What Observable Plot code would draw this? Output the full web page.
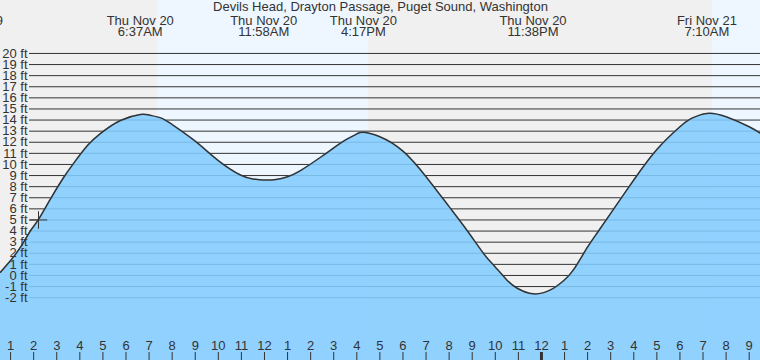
<!DOCTYPE html>
<html><head><meta charset="utf-8">
<script src="https://cdn.jsdelivr.net/npm/d3@7"></script>
<script src="https://cdn.jsdelivr.net/npm/@observablehq/plot@0.6"></script>
<style>
html,body{margin:0;padding:0;background:#f0f0f0;overflow:hidden;}
#chart svg{display:block;}
</style>
</head><body><div id="chart"></div>
<script>
// ---- data (hours since Thu Nov 20 00:00) ----
const title = "Devils Head, Drayton Passage, Puget Sound, Washington";
const tideHours = [0.563, 1.0, 1.43, 1.87, 2.21, 2.73, 3.29, 3.73, 4.33, 4.9, 5.76, 6.62, 7.0, 7.5, 8.0, 9.0, 10.0, 10.96, 11.5, 11.97, 12.5, 13.0, 13.56, 14.43, 15.0, 15.5, 16.0, 16.28, 17.0, 18.0, 19.0, 20.0, 20.78, 21.5, 21.94, 22.52, 22.95, 23.63, 24.39, 24.97, 25.4, 25.98, 26.42, 27.0, 28.0, 29.0, 30.0, 30.5, 31.17, 32.0, 33.0, 33.49];
const tideFeet  = [0.3, 1.35, 2.55, 4.05, 5.05, 6.9, 8.8, 10.1, 11.7, 12.8, 13.96, 14.5, 14.45, 14.2, 13.6, 12.1, 10.35, 9.05, 8.7, 8.6, 8.65, 8.9, 9.45, 10.65, 11.5, 12.2, 12.75, 12.9, 12.5, 11.2, 8.9, 6.2, 4.05, 1.95, 0.9, -0.45, -1.15, -1.65, -1.3, -0.45, 0.55, 2.5, 3.85, 5.6, 8.6, 11.35, 13.4, 14.15, 14.6, 14.3, 13.4, 12.8];
const extremeHours = [-0.875, 6.617, 11.967, 16.283, 23.633, 31.167];
const extremeDates = ["Wed Nov 19", "Thu Nov 20", "Thu Nov 20", "Thu Nov 20", "Thu Nov 20", "Fri Nov 21"];
const extremeTimes = ["11:08PM", "6:37AM", "11:58AM", "4:17PM", "11:38PM", "7:10AM"];
const dayStarts = [7.37, 31.41];
const dayEnds = [16.51, 33.49];
const levelTicks = [-2, -1, 0, 1, 2, 3, 4, 5, 6, 7, 8, 9, 10, 11, 12, 13, 14, 15, 16, 17, 18, 19, 20];
const hourTicks = [1,2,3,4,5,6,7,8,9,10,11,12,13,14,15,16,17,18,19,20,21,22,23,24,25,26,27,28,29,30,31,32,33];
const hourLabels = ["1","2","3","4","5","6","7","8","9","10","11","12","1","2","3","4","5","6","7","8","9","10","11","12","1","2","3","4","5","6","7","8","9"];
const midnightTicks = [24];
const nowHour = [2.21];
const nowFeet = [5];
const xDomain = [0.563, 33.49];
const yDomain = [-7.66, 24.77];

const tide = tideHours.map((h, i) => ({h, ft: tideFeet[i]}));
const extremes = extremeHours.map((h, i) => ({h, date: extremeDates[i], time: extremeTimes[i]}));
const days = dayStarts.map((s, i) => ({s, e: dayEnds[i]}));
const ticks = hourTicks.map((h, i) => ({h, label: hourLabels[i]}));
const now = nowHour.map((h, i) => ({h, ft: nowFeet[i]}));

const ink = "#333";
const fs = 13;
const chart = Plot.plot({
  width: 760, height: 360,
  marginTop: 0, marginBottom: 0, marginLeft: 0, marginRight: 0,
  style: {background: "#f0f0f0", fontFamily: "'Liberation Sans', Arial, sans-serif", fontSize: fs + "px", color: ink},
  x: {domain: xDomain, axis: null},
  y: {domain: yDomain, axis: null},
  marks: [
    Plot.rect(days, {x1: "s", x2: "e", fill: "#eef7ff"}),
    Plot.ruleY(levelTicks, {y: d => d, stroke: ink, strokeWidth: 1, insetLeft: 29}),
    Plot.areaY(tide, {x: "h", y1: yDomain[0], y2: "ft", fill: "#83ccff", fillOpacity: 0.88, curve: "natural"}),
    Plot.line(tide, {x: "h", y: "ft", stroke: ink, strokeWidth: 1.5, curve: "natural"}),
    Plot.dot(now, {x: "h", y: "ft", symbol: "plus", r: 5.7, stroke: ink, strokeWidth: 1}),
    Plot.text(levelTicks, {y: d => d, frameAnchor: "left", dx: 27, textAnchor: "end", lineAnchor: "middle", text: d => `${d} ft`, fill: ink, fontSize: fs}),
    Plot.ruleX(ticks, {x: "h", stroke: ink, strokeWidth: 1, insetTop: 352}),
    Plot.ruleX(midnightTicks, {x: d => d, stroke: ink, strokeWidth: 3, insetTop: 352}),
    Plot.text(ticks, {x: "h", frameAnchor: "bottom", lineAnchor: "middle", dy: -14.2, text: "label", fill: ink, fontSize: fs}),
    Plot.text([title], {frameAnchor: "top", lineAnchor: "middle", dy: 6.8, text: d => d, fill: ink, fontSize: fs}),
    Plot.text(extremes, {x: "h", frameAnchor: "top", lineAnchor: "middle", dy: 20.1, text: "date", fill: ink, fontSize: fs}),
    Plot.text(extremes, {x: "h", frameAnchor: "top", lineAnchor: "middle", dy: 31.8, text: "time", fill: ink, fontSize: fs})
  ]
});
document.getElementById("chart").appendChild(chart);
</script>
</body></html>
